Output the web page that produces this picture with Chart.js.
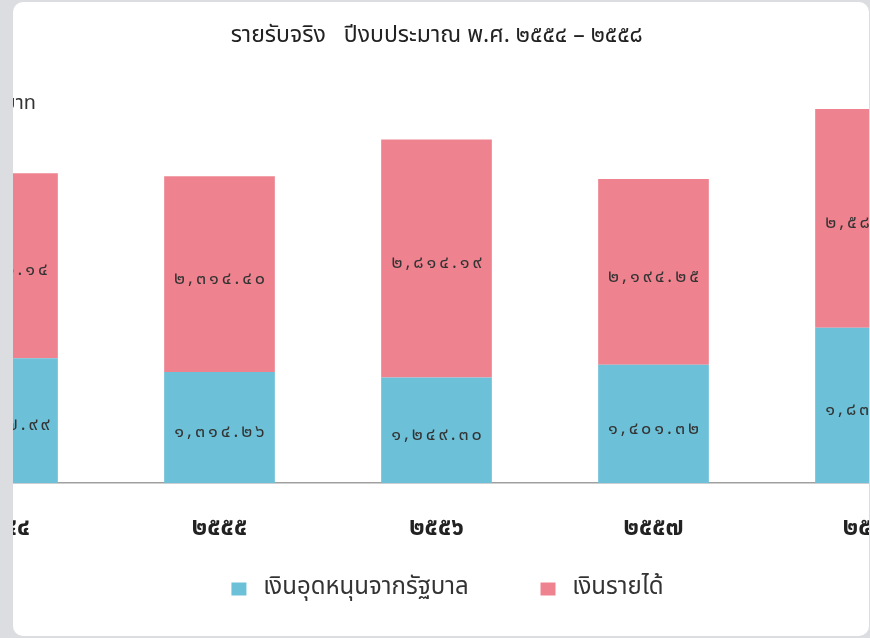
<!DOCTYPE html>
<html>
<head>
<meta charset="utf-8">
<script src="https://cdn.jsdelivr.net/npm/chart.js@4.4.1/dist/chart.umd.min.js"></script>
<style>
  html, body { margin: 0; padding: 0; }
  body { width: 870px; height: 638px; background: #dcdde0; overflow: hidden; position: relative; }
  .card { position: absolute; left: 13px; top: 2px; width: 856px; height: 634px;
          background: #fff; border-radius: 10px; overflow: hidden; }
  .chart-box { position: absolute; left: -119px; top: 0; width: 1085px; height: 634px; }
</style>
</head>
<body>
<div class="card">
  <div class="chart-box"><canvas id="myChart"></canvas></div>
</div>
<script>
const years = ['๒๕๕๔', '๒๕๕๕', '๒๕๕๖', '๒๕๕๗', '๒๕๕๘'];
const govSubsidy = [1477.99, 1314.26, 1249.30, 1401.32, 1838.40];
const ownIncome = [2186.14, 2314.40, 2814.19, 2194.25, 2585.60];
const seriesNames = ['เงินอุดหนุนจากรัฐบาล', 'เงินรายได้'];
const unitLabel = 'ล้านบาท';

const thaiFont = "Tahoma, 'Noto Sans Thai', 'Noto Sans', 'DejaVu Sans', sans-serif";
const thaiDigits = '๐๑๒๓๔๕๖๗๘๙';

function toThai(v) {
  const s = v.toLocaleString('en-US', { minimumFractionDigits: 2, maximumFractionDigits: 2 });
  return s.replace(/[0-9]/g, d => thaiDigits[+d]);
}

// values inside each bar segment + unit text
const barLabels = {
  id: 'barLabels',
  afterLayout(chart) {
    // legend sits a bit right of centre in the original
    chart.legend.left += 11;
    chart.legend.right += 11;
  },
  afterDatasetsDraw(chart) {
    const ctx = chart.ctx;
    ctx.save();
    ctx.font = '18px ' + thaiFont;
    ctx.letterSpacing = '3px';
    ctx.fillStyle = '#333';
    ctx.textAlign = 'center';
    ctx.textBaseline = 'middle';
    chart.data.datasets.forEach((ds, i) => {
      chart.getDatasetMeta(i).data.forEach((bar, j) => {
        ctx.fillText(toThai(ds.data[j]), bar.x + 1.5, (bar.y + bar.base) / 2 + 6);
      });
    });
    ctx.letterSpacing = '0px';
    ctx.font = '20px ' + thaiFont;
    ctx.textAlign = 'right';
    ctx.fillStyle = '#333';
    ctx.fillText(unitLabel, chart.chartArea.left + 142, 103);
    ctx.restore();
  }
};

new Chart(document.getElementById('myChart'), {
  type: 'bar',
  data: {
    labels: years,
    datasets: [
      { label: seriesNames[0], data: govSubsidy, backgroundColor: '#6cc0d7' },
      { label: seriesNames[1], data: ownIncome, backgroundColor: '#ee838f' }
    ]
  },
  options: {
    responsive: true,
    maintainAspectRatio: false,
    animation: false,
    layout: { padding: { left: 0, right: 0, top: 0, bottom: 25 } },
    datasets: { bar: { categoryPercentage: 1, barPercentage: 0.51 } },
    plugins: {
      title: {
        display: true,
        text: 'รายรับจริง   ปีงบประมาณ พ.ศ. ๒๕๕๔ – ๒๕๕๘',
        color: '#222',
        font: { family: thaiFont, size: 23, weight: 'normal' },
        padding: { top: 22, bottom: 51 }
      },
      legend: {
        position: 'bottom',
        labels: {
          color: '#333',
          font: { family: thaiFont, size: 24 },
          boxWidth: 15,
          boxHeight: 13,
          padding: 7,
          generateLabels(chart) {
            const items = Chart.defaults.plugins.legend.labels.generateLabels(chart);
            items.forEach(it => { it.text = '\u2009' + it.text; });
            // wider gap between the two legend entries
            items[0].text += '\u2003\u2003\u2002\u2009';
            return items;
          }
        }
      },
      tooltip: { enabled: false }
    },
    scales: {
      x: {
        stacked: true,
        grid: { display: false },
        border: { color: '#a0a0a0', width: 1.5 },
        ticks: { color: '#222', padding: 25, font: { family: thaiFont, size: 24, weight: 'bold' } }
      },
      y: {
        stacked: true,
        display: false,
        min: 0,
        max: 4500
      }
    }
  },
  plugins: [barLabels]
});
</script>
</body>
</html>
